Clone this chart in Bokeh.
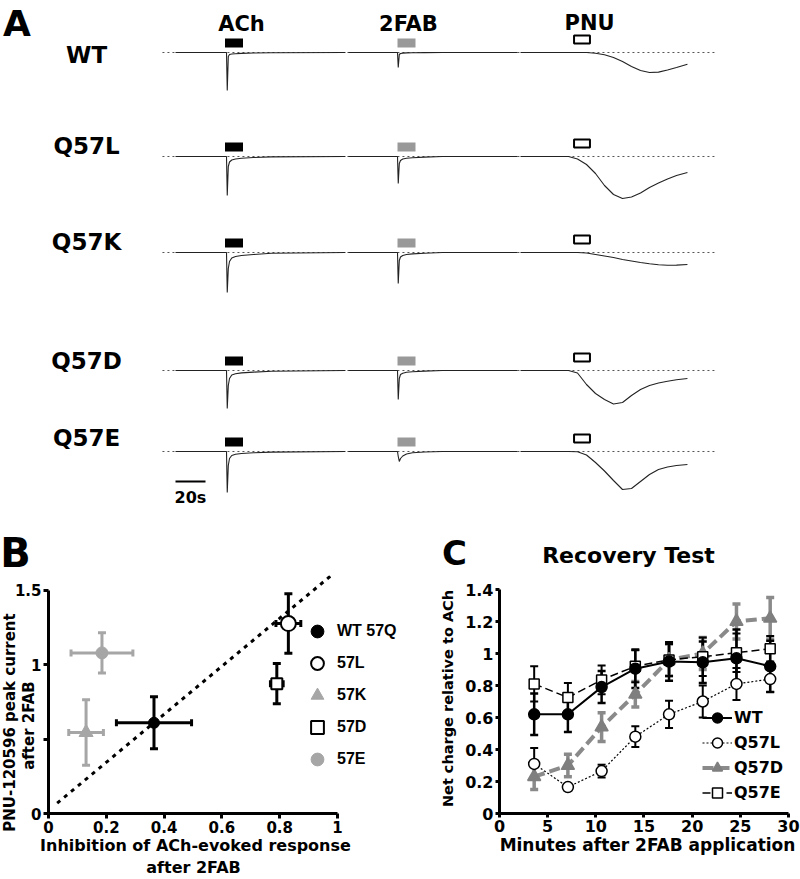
import math
from bokeh.plotting import figure
from bokeh.models import (Range1d, Label, Legend, LegendItem, Whisker, TeeHead,
                          ColumnDataSource, FixedTicker)
from bokeh.layouts import column, row
from bokeh.embed import file_html
from bokeh.resources import INLINE

FONT = "DejaVu Sans"

# ======================= DATA =======================
# ---- Panel A: current traces (time in s, current in arbitrary units) ----
genotypes = ["WT", "Q57L", "Q57K", "Q57D", "Q57E"]
stim_names = ["ACh", "2FAB", "PNU"]
ach_window = [33.0, 45.0]
fab_window = [148.0, 160.0]
pnu_window = [265.0, 277.0]
ach_peak_time = 34.0
fab_peak_time = 148.0
segment_starts = [0.0, 115.3, 230.0]
segment_ends = [113.3, 228.0, 341.3]
scale_bar_s = [0.0, 20.0]

spike_dt = [0.0, 0.5, 1.2, 2.0, 3.5, 6.0, 10.0, 18.0, 30.0]
ach_wt = [0, -38, -4, -2, -1.5, -1.2, -0.9, -0.5, -0.2]
ach_q57l = [0, -39, -10, -5.5, -3.5, -2.5, -1.8, -1.0, -0.4]
ach_q57k = [0, -40, -16, -9, -5.5, -4, -3, -2, -0.8]
ach_q57d = [0, -38, -15, -8, -4.5, -3.2, -2.4, -1.6, -0.7]
ach_q57e = [0, -41, -14, -7, -4, -2.8, -2.0, -1.3, -0.6]

fab_wt = [0, -15, -2, -1, -0.6, -0.4, -0.3, -0.1, 0]
fab_q57l = [0, -27, -7, -4, -2.5, -1.8, -1.2, -0.6, 0]
fab_q57k = [0, -31, -8, -4.5, -3, -2, -1.4, -0.7, 0]
fab_q57d = [0, -29, -8, -4, -2.7, -1.8, -1.2, -0.6, 0]
fab_q57e = [0, -5, -10, -7, -4.5, -2.5, -1.2, -0.5, 0]

pnu_t = [255, 262, 268, 274, 280, 286, 292, 298, 304, 310, 316, 322, 328, 334, 341.3]
pnu_wt = [0, 0, 0, 0, -0.8, -2.2, -5, -9, -14, -18, -20, -19.6, -17.5, -15, -11.7]
pnu_q57l = [0, 0, -2.5, -8, -17, -29, -38, -42, -40.5, -36.5, -31, -26.5, -22.5, -19, -16]
pnu_q57k = [0, 0, 0, -0.5, -2, -3.5, -5, -7, -8.5, -10, -11.3, -12.3, -12.8, -12.6, -12]
pnu_q57d = [0, 0, -2.5, -14, -23, -29, -33.5, -32, -25, -19, -15, -12.5, -10.8, -9.3, -8]
pnu_q57e = [0, 0, -0.3, -3.5, -11, -19.5, -29, -38, -37, -30, -23, -18, -15.5, -14, -13]

# ---- Panel B ----
b_labels = ["WT 57Q", "57L", "57K", "57D", "57E"]
b_x = [0.365, 0.83, 0.13, 0.79, 0.185]
b_xerr = [0.13, 0.043, 0.06, 0.022, 0.107]
b_y = [0.61, 1.277, 0.545, 0.873, 1.08]
b_yerr = [0.175, 0.2, 0.22, 0.135, 0.135]
diag_x = [0.03, 0.99]
diag_y = [0.07, 1.62]
b_xticks = [0, 0.2, 0.4, 0.6, 0.8, 1]
b_yticks = [0, 0.5, 1, 1.5]

# ---- Panel C ----
c_minutes = [3.6, 7.1, 10.6, 14.1, 17.6, 21.1, 24.6, 28.1]
c_wt = [0.62, 0.62, 0.79, 0.905, 0.95, 0.945, 0.97, 0.92]
c_wt_err = [0.13, 0.11, 0.10, 0.12, 0.12, 0.13, 0.18, 0.16]
c_q57l = [0.31, 0.165, 0.265, 0.48, 0.62, 0.70, 0.81, 0.84]
c_q57l_err = [0.10, 0.02, 0.04, 0.065, 0.085, 0.10, 0.10, 0.08]
c_q57d = [0.23, 0.30, 0.54, 0.745, 0.96, 1.0, 1.2, 1.22]
c_q57d_err = [0.08, 0.07, 0.09, 0.08, 0.10, 0.10, 0.11, 0.13]
c_q57e = [0.81, 0.725, 0.835, 0.92, 0.96, 0.98, 1.005, 1.03]
c_q57e_err = [0.11, 0.09, 0.09, 0.10, 0.10, 0.12, 0.12, 0.08]
c_xticks = [0, 5, 10, 15, 20, 25, 30]
c_yticks = [0, 0.2, 0.4, 0.6, 0.8, 1, 1.2, 1.4]

# ======================= HELPERS =======================
def lab(p, x, y, text, size, angle=0.0, units="data", font=FONT):
    p.add_layout(Label(x=x, y=y, x_units=units, y_units=units, text=text, angle=angle,
                       text_font=font, text_font_style="bold", text_font_size=size,
                       text_align="center", text_baseline="middle", text_color="black"))


def style_axes(p, xticks, yticks, xb, yb, xov, yov, fs, tick_out):
    p.xaxis[0].fixed_location = 0
    p.yaxis[0].fixed_location = 0
    for ax, ticks, b, ov in ((p.xaxis[0], xticks, xb, xov), (p.yaxis[0], yticks, yb, yov)):
        ax.ticker = FixedTicker(ticks=ticks)
        ax.bounds = b
        ax.axis_line_width = 3
        ax.axis_line_color = "black"
        ax.major_tick_line_width = 3
        ax.major_tick_line_color = "black"
        ax.major_tick_out = tick_out
        ax.major_tick_in = 0
        ax.minor_tick_line_color = None
        ax.major_label_text_font = FONT
        ax.major_label_text_font_style = "bold"
        ax.major_label_text_font_size = fs
        ax.major_label_text_color = "black"
        ax.major_label_overrides = ov
        ax.major_label_standoff = 2
    p.grid.visible = False
    p.outline_line_color = None


def panel(xr, yr):
    # frame covers the whole canvas; axes are pinned at data 0 with fixed_location
    return figure(width=400, height=304, x_range=xr, y_range=yr,
                  output_backend="svg", toolbar_location=None,
                  min_border_left=0, min_border_right=0, min_border_top=0, min_border_bottom=0)


# ======================= PANEL A (top strip, also hosts panel letters) =======================
row_base = [-52, -156, -252, -370, -451]
label_y = [-54, -145, -241, -360, -437]
ach_list = [ach_wt, ach_q57l, ach_q57k, ach_q57d, ach_q57e]
fab_list = [fab_wt, fab_q57l, fab_q57k, fab_q57d, fab_q57e]
pnu_list = [pnu_wt, pnu_q57l, pnu_q57k, pnu_q57d, pnu_q57e]

pA = figure(width=800, height=575, x_range=Range1d(-116.667, 416.667),
            y_range=Range1d(-575, 0), output_backend="svg", toolbar_location=None,
            x_axis_location=None, y_axis_location=None,
            min_border_left=0, min_border_right=0, min_border_top=0, min_border_bottom=0)
pA.grid.visible = False
pA.outline_line_color = None

xs, ys = [], []
for base, a, f, pn in zip(row_base, ach_list, fab_list, pnu_list):
    t1 = [segment_starts[0]] + [ach_peak_time + d for d in spike_dt] + [segment_ends[0]]
    v1 = [0] + a + [0]
    t2 = [segment_starts[1]] + [fab_peak_time + d for d in spike_dt] + [segment_ends[1]]
    v2 = [0] + f + [0]
    t3 = [segment_starts[2]] + pnu_t
    v3 = [0] + pn
    for t, v in ((t1, v1), (t2, v2), (t3, v3)):
        xs.append(t)
        ys.append([base + q for q in v])
    pA.line([-8.7, 361.0], [base, base], line_color="#555555", line_width=1, line_dash="2 3")
pA.multi_line(xs, ys, line_color="#222222", line_width=1.1)

pA.quad(left=[ach_window[0]] * 5, right=[ach_window[1]] * 5,
        bottom=[b + 5 for b in row_base], top=[b + 14 for b in row_base],
        fill_color="black", line_color=None)
pA.quad(left=[fab_window[0]] * 5, right=[fab_window[1]] * 5,
        bottom=[b + 5 for b in row_base], top=[b + 14 for b in row_base],
        fill_color="#999999", line_color=None)
pA.quad(left=[pnu_window[0] + 0.7] * 5, right=[pnu_window[1] - 0.7] * 5,
        bottom=[b + 9 for b in row_base], top=[b + 17 for b in row_base],
        fill_color="white", line_color="black", line_width=2)

for g, ly in zip(genotypes, label_y):
    lab(pA, -59.3, ly, g, "23px")
lab(pA, 44, -23, stim_names[0], "21px")
lab(pA, 155.3, -23, stim_names[1], "21px")
lab(pA, 276, -22, stim_names[2], "21px")
lab(pA, -105.7, -22.5, "A", "36px")

pA.line(scale_bar_s, [-481, -481], line_color="black", line_width=2)
lab(pA, 10, -497, "20s", "16px")

# panel letters and panel C title (placed in the top strip)
lab(pA, (15 - 175) / 1.5, -552.5, "B", "40px")
lab(pA, (454 - 175) / 1.5, -552.5, "C", "34px")
lab(pA, (628 - 175) / 1.5, -555, "Recovery Test", "22px")

# ======================= PANEL B =======================
pB = panel(Range1d(-0.1661, 1.218), Range1d(-0.4438, 1.6005))
style_axes(pB, b_xticks, b_yticks, (0, 1), (0, 1.5),
           {0: "0", 1: "1"}, {0: "0", 0.5: "", 1: "1", 1.5: "1.5"}, "15px", 5)

pB.line(diag_x, diag_y, line_color="black", line_width=3, line_dash="4 5")

b_colors = ["black", "black", "#a6a6a6", "black", "#a6a6a6"]
for col in ("black", "#a6a6a6"):
    idx = [i for i, c in enumerate(b_colors) if c == col]
    src = ColumnDataSource(dict(
        x=[b_x[i] for i in idx], y=[b_y[i] for i in idx],
        xl=[b_x[i] - b_xerr[i] for i in idx], xu=[b_x[i] + b_xerr[i] for i in idx],
        yl=[b_y[i] - b_yerr[i] for i in idx], yu=[b_y[i] + b_yerr[i] for i in idx]))
    pB.add_layout(Whisker(source=src, base="y", lower="xl", upper="xu", dimension="width",
                          line_color=col, line_width=3,
                          upper_head=TeeHead(size=7, line_color=col, line_width=3),
                          lower_head=TeeHead(size=7, line_color=col, line_width=3)))
    pB.add_layout(Whisker(source=src, base="x", lower="yl", upper="yu", dimension="height",
                          line_color=col, line_width=3,
                          upper_head=TeeHead(size=8, line_color=col, line_width=3),
                          lower_head=TeeHead(size=8, line_color=col, line_width=3)))

b_markers = ["circle", "circle", "triangle", "square", "circle"]
b_fill = ["black", "white", "#a6a6a6", "white", "#a6a6a6"]
b_size = [11, 15, 14, 11, 12]
b_lw = [1, 2, 1, 2, 1]
b_rends = []
for i in range(5):
    r = pB.scatter([b_x[i]], [b_y[i]], marker=b_markers[i], size=b_size[i],
                   fill_color=b_fill[i], line_color=b_colors[i], line_width=b_lw[i])
    b_rends.append(r)
legB = Legend(items=[LegendItem(label=l, renderers=[r]) for l, r in zip(b_labels, b_rends)],
              location=(301, 104), glyph_width=32, glyph_height=32, label_height=32,
              spacing=-12, padding=0, margin=0, border_line_color=None,
              background_fill_alpha=0, label_text_font="Liberation Sans",
              label_text_font_style="bold", label_text_font_size="16px",
              label_text_color="black", label_standoff=4)
pB.add_layout(legB)

# axis titles (screen px from the panel's bottom-left corner)
lab(pB, 9, 157, "PNU-120596 peak current", "15px", angle=math.pi / 2, units="screen")
lab(pB, 28, 154, "after 2FAB", "15px", angle=math.pi / 2, units="screen")
lab(pB, 195, 34, "Inhibition of ACh-evoked response", "16px", units="screen")
lab(pB, 193, 12, "after 2FAB", "16px", units="screen")

# ======================= PANEL C =======================
pC = panel(Range1d(-10.277, 31.247), Range1d(-0.4125, 1.4875))
style_axes(pC, c_xticks, c_yticks, (0, 30), (0, 1.4), {}, {0: "0", 1: "1"}, "16px", 4)

series = [
    ("Q57D", c_q57d, c_q57d_err, "#8a8a8a", 4, "11 5", "triangle", "#7f7f7f", 13, "#8a8a8a", 3.5),
    ("Q57L", c_q57l, c_q57l_err, "black", 1.2, "2 2", "circle", "white", 11, "black", 2),
    ("Q57E", c_q57e, c_q57e_err, "black", 1.5, "8 4", "square", "white", 10, "black", 2),
    ("WT", c_wt, c_wt_err, "black", 2, "solid", "circle", "black", 11, "black", 2.5),
]
c_items = {}
for name, vals, errs, lc, lw, dash, mk, fill, sz, ec, ew in series:
    src = ColumnDataSource(dict(x=c_minutes, y=vals,
                                lo=[v - e for v, e in zip(vals, errs)],
                                hi=[v + e for v, e in zip(vals, errs)]))
    pC.add_layout(Whisker(source=src, base="x", lower="lo", upper="hi", dimension="height",
                          line_color=ec, line_width=ew,
                          upper_head=TeeHead(size=8, line_color=ec, line_width=ew),
                          lower_head=TeeHead(size=8, line_color=ec, line_width=ew)))
    rl = pC.line("x", "y", source=src, line_color=lc, line_width=lw, line_dash=dash)
    rs = pC.scatter("x", "y", source=src, marker=mk, size=sz, fill_color=fill,
                    line_color="black" if fill != "#7f7f7f" else "#7f7f7f", line_width=1.5)
    c_items[name] = [rl, rs]

legC = Legend(items=[LegendItem(label=n, renderers=c_items[n]) for n in ["WT", "Q57L", "Q57D", "Q57E"]],
              location=(302, 74), glyph_width=30, glyph_height=25, label_height=25,
              spacing=-4, padding=0, margin=0, border_line_color=None,
              background_fill_alpha=0, label_text_font=FONT, label_text_font_style="bold",
              label_text_font_size="16px", label_text_color="black", label_standoff=2)
pC.add_layout(legC)

lab(pC, 47, 181, "Net charge relative to ACh", "14.5px", angle=math.pi / 2, units="screen")
lab(pC, 247, 35, "Minutes after 2FAB application", "17px", units="screen")

layout = column(pA, row(pB, pC))
open("out.html", "w").write(file_html(layout, INLINE))
